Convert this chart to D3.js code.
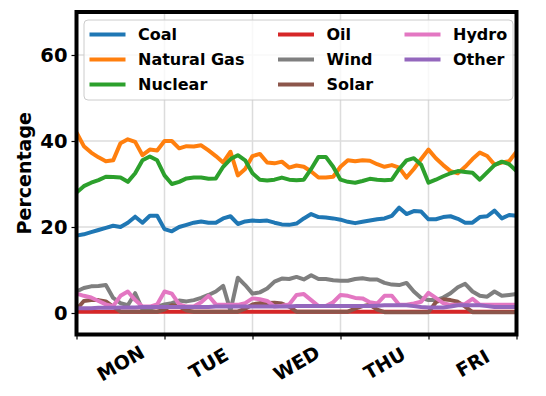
<!DOCTYPE html>
<html>
<head>
<meta charset="utf-8">
<script src="https://cdn.jsdelivr.net/npm/d3@7"></script>
<style>
  body { margin: 0; background: #fff; }
  svg text { font-family: "DejaVu Sans", sans-serif; font-weight: bold; }
</style>
</head>
<body>
<div id="chart"></div>
<script>
// hours since Monday 00:00, one sample every 2 hours
const hours = d3.range(0, 121, 2);
const dayLabels = ["MON", "TUE", "WED", "THU", "FRI"];
const yTicks = [0, 20, 40, 60];

const coal = [
  18.0, 18.3, 18.8, 19.3, 19.8, 20.3, 20.0, 21.0, 22.4, 21.0, 22.6, 22.6, 19.5, 19.0, 20.0, 20.5, 21.0, 21.3, 21.0, 21.0, 22.0,
  22.5, 20.7, 21.3, 21.5, 21.4, 21.5, 21.0, 20.6, 20.5, 20.8, 22.0, 23.0, 22.3, 22.2, 22.0, 21.7, 21.2, 20.9, 21.2, 21.5,
  21.8, 22.0, 22.6, 24.5, 23.0, 23.7, 23.6, 21.8, 21.8, 22.3, 22.5, 21.9, 21.0, 21.0, 22.3, 22.5, 23.8, 22.0, 22.8, 22.6
];
const naturalGas = [
  42.0, 38.8, 37.3, 36.2, 35.3, 35.5, 39.5, 40.4, 39.8, 36.7, 38.0, 37.8, 40.0, 40.0, 38.3, 38.8, 38.7, 39.0, 37.8, 36.5, 35.0,
  37.5, 32.0, 33.5, 36.5, 37.0, 35.0, 34.8, 35.2, 33.8, 34.3, 34.0, 32.9, 31.5, 31.5, 31.7, 34.0, 35.5, 35.3, 35.5, 35.4,
  34.6, 34.0, 34.4, 33.8, 31.5, 33.5, 35.8, 38.0, 36.0, 34.4, 33.0, 32.5, 34.0, 35.8, 37.3, 36.5, 34.5, 35.0, 35.3, 37.5
];
const nuclear = [
  28.0, 29.5, 30.3, 30.9, 31.7, 31.6, 31.5, 30.5, 32.5, 35.5, 36.4, 35.5, 32.0, 30.0, 30.5, 31.3, 31.5, 31.5, 31.2, 31.3, 34.0,
  35.8, 36.7, 35.5, 32.5, 31.0, 30.8, 31.0, 31.5, 31.0, 30.9, 31.0, 33.5, 36.3, 36.3, 34.0, 31.0, 30.5, 30.3, 30.7, 31.2,
  31.0, 30.9, 31.0, 33.5, 35.5, 36.0, 34.5, 30.3, 31.0, 31.8, 32.5, 33.0, 32.8, 32.6, 31.0, 32.7, 34.4, 35.2, 34.6, 33.0
];
const oil = [
  0.3, 0.3, 0.3, 0.3, 0.3, 0.3, 0.3, 0.3, 0.3, 0.3, 0.3, 0.3, 0.3, 0.3, 0.3, 0.3, 0.3, 0.3, 0.3, 0.3, 0.3,
  0.3, 0.3, 0.3, 0.3, 0.3, 0.3, 0.3, 0.3, 0.3, 0.3, 0.3, 0.3, 0.3, 0.3, 0.3, 0.3, 0.3, 0.3, 0.3, 0.3,
  0.3, 0.3, 0.3, 0.3, 0.3, 0.3, 0.3, 0.3, 0.3, 0.3, 0.3, 0.3, 0.3, 0.3, 0.3, 0.3, 0.3, 0.3, 0.3, 0.3
];
const wind = [
  5.0, 5.8, 6.2, 6.3, 6.5, 3.5, 2.3, 1.8, 4.6, 0.8, 1.0, 1.5, 2.0, 2.3, 2.9, 2.7, 3.0, 3.5, 4.2, 5.0, 6.3,
  0.5, 8.2, 6.5, 4.5, 4.8, 5.7, 7.3, 8.0, 7.9, 8.4, 7.8, 8.8, 7.9, 7.9, 7.6, 7.5, 7.5, 7.9, 8.1, 7.8,
  7.8, 7.0, 6.6, 6.5, 7.0, 5.0, 3.5, 3.0, 3.0, 3.6, 4.6, 6.0, 6.8, 5.0, 4.0, 3.8, 5.0, 4.0, 4.2, 4.4
];
const solar = [
  0.8, 2.8, 3.0, 3.0, 2.7, 1.5, 0.3, 0.3, 0.3, 0.3, 0.3, 0.3, 0.8, 1.8, 1.5, 0.6, 0.3, 0.3, 0.3, 0.3, 0.3,
  0.3, 0.3, 1.0, 2.0, 2.3, 2.3, 2.4, 2.2, 1.5, 0.3, 0.3, 0.3, 0.3, 0.3, 0.3, 0.3, 0.3, 1.0, 1.6, 1.9,
  0.8, 0.2, 0.2, 0.2, 0.2, 0.2, 0.2, 0.2, 2.5, 3.2, 3.0, 2.6, 1.5, 0.2, 0.2, 0.2, 0.2, 0.2, 0.2, 0.2
];
const hydro = [
  4.5, 4.0, 3.6, 2.8, 2.0, 1.6, 4.0, 5.0, 3.0, 1.5, 1.5, 2.0, 5.0, 4.5, 2.0, 1.5, 1.5, 2.5, 4.0, 2.0, 1.9,
  1.9, 1.9, 2.3, 3.4, 3.2, 2.8, 1.5, 1.7, 2.0, 4.2, 4.4, 3.0, 1.6, 1.6, 2.5, 4.2, 4.0, 3.5, 3.4, 2.5,
  2.2, 4.0, 4.0, 1.9, 1.9, 2.2, 2.6, 4.7, 3.5, 2.3, 1.9, 1.9, 2.1, 3.3, 1.9, 1.9, 1.9, 1.9, 1.9, 1.9
];
const other = [
  1.1, 1.1, 1.1, 1.2, 1.2, 1.2, 1.3, 1.3, 1.3, 1.4, 1.4, 1.4, 1.4, 1.4, 1.4, 1.4, 1.4, 1.4, 1.4, 1.5, 1.5,
  1.5, 1.5, 1.5, 1.5, 1.5, 1.5, 1.5, 1.5, 1.5, 1.6, 1.6, 1.6, 1.6, 1.6, 1.6, 1.6, 1.6, 1.6, 1.6, 1.6,
  1.7, 1.8, 1.8, 1.8, 1.8, 1.6, 1.4, 1.3, 1.3, 1.3, 1.5, 1.8, 1.8, 1.8, 1.8, 1.6, 1.4, 1.4, 1.4, 1.4
];

const seriesNames = ["Coal", "Natural Gas", "Nuclear", "Oil", "Wind", "Solar", "Hydro", "Other"];
const seriesValues = [coal, naturalGas, nuclear, oil, wind, solar, hydro, other];
const seriesColors = ["#1f77b4", "#ff7f0e", "#2ca02c", "#d62728", "#7f7f7f", "#8c564b", "#e377c2", "#9467bd"];

const W = 546, H = 396;
const plot = { left: 76.5, right: 516.5, top: 12, bottom: 334.5 };

const svg = d3.select("#chart").append("svg")
  .attr("width", W)
  .attr("height", H);

const x = d3.scaleLinear().domain([0, 120]).range([plot.left, plot.right]);
const y = d3.scaleLinear().domain([-5, 70]).range([plot.bottom, plot.top]);

svg.append("defs").append("clipPath")
  .attr("id", "plot-clip")
  .append("rect")
  .attr("x", plot.left).attr("y", plot.top)
  .attr("width", plot.right - plot.left).attr("height", plot.bottom - plot.top);

// grid
const grid = svg.append("g");
grid.selectAll(".vgrid")
  .data(d3.range(0, 121, 24))
  .enter().append("line")
  .attr("x1", (d) => x(d)).attr("x2", (d) => x(d))
  .attr("y1", plot.top).attr("y2", plot.bottom)
  .attr("stroke", "#dcdcdc").attr("stroke-width", 1.5);
grid.selectAll(".hgrid")
  .data(yTicks)
  .enter().append("line")
  .attr("x1", plot.left).attr("x2", plot.right)
  .attr("y1", (d) => y(d)).attr("y2", (d) => y(d))
  .attr("stroke", "#dcdcdc").attr("stroke-width", 1.5);

// lines
const line = d3.line()
  .x((d, i) => x(hours[i]))
  .y((d) => y(d));

svg.append("g")
  .attr("clip-path", "url(#plot-clip)")
  .selectAll("path")
  .data(seriesValues)
  .enter().append("path")
  .attr("d", (d) => line(d))
  .attr("fill", "none")
  .attr("stroke", (d, i) => seriesColors[i])
  .attr("stroke-width", 4)
  .attr("stroke-linejoin", "round")
  .attr("stroke-linecap", "butt");

// axes
const xAxis = svg.append("g")
  .attr("transform", `translate(0,${plot.bottom})`)
  .call(d3.axisBottom(x).tickValues(d3.range(0, 121, 24)).tickSize(5).tickFormat(""));
xAxis.select(".domain").remove();
xAxis.selectAll("line").attr("stroke-width", 1.2);

svg.selectAll(".day-label")
  .data(dayLabels)
  .enter().append("text")
  .attr("class", "day-label")
  .attr("transform", (d, i) => `translate(${x(12 + i * 24)},${363}) rotate(-30)`)
  .attr("text-anchor", "middle")
  .attr("dominant-baseline", "central")
  .attr("font-size", 19)
  .text((d) => d);

const yAxis = svg.append("g")
  .attr("transform", `translate(${plot.left},0)`)
  .call(d3.axisLeft(y).tickValues(yTicks).tickSize(5).tickPadding(4));
yAxis.select(".domain").remove();
yAxis.selectAll("line").attr("stroke-width", 1.2);
yAxis.selectAll("text")
  .attr("font-size", 19.5)
  .attr("font-family", "DejaVu Sans")
  .attr("font-weight", "bold")
  .attr("fill", "#000");

svg.append("text")
  .attr("transform", `translate(24,${(plot.top + plot.bottom) / 2}) rotate(-90)`)
  .attr("text-anchor", "middle")
  .attr("dominant-baseline", "central")
  .attr("font-size", 19)
  .text("Percentage");

// frame
svg.append("rect")
  .attr("x", plot.left).attr("y", plot.top)
  .attr("width", plot.right - plot.left).attr("height", plot.bottom - plot.top)
  .attr("fill", "none")
  .attr("stroke", "#000")
  .attr("stroke-width", 4);

// legend
const legend = svg.append("g");
legend.append("rect")
  .attr("x", 84).attr("y", 20)
  .attr("width", 429).attr("height", 80)
  .attr("rx", 4)
  .attr("fill", "#fff").attr("fill-opacity", 0.8)
  .attr("stroke", "#cccccc").attr("stroke-width", 1);

const colX = [89.5, 278, 404.5];
const rowY = [34.5, 59.5, 84.5];
const items = legend.selectAll(".item")
  .data(seriesNames)
  .enter().append("g")
  .attr("transform", (d, i) => `translate(${colX[Math.floor(i / 3)]},${rowY[i % 3]})`);
items.append("line")
  .attr("x1", 0).attr("x2", 36)
  .attr("stroke", (d, i) => seriesColors[i])
  .attr("stroke-width", 4);
items.append("text")
  .attr("x", 48.5)
  .attr("dominant-baseline", "central")
  .attr("font-size", 16)
  .text((d) => d);
</script>
</body>
</html>
